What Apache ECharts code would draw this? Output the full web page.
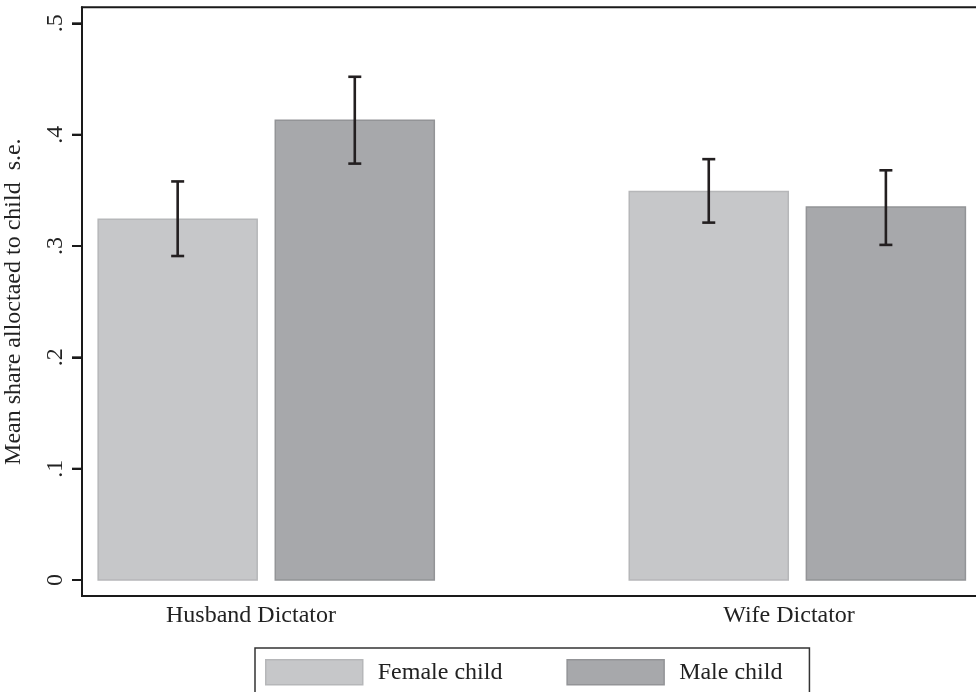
<!DOCTYPE html>
<html>
<head>
<meta charset="utf-8">
<script src="https://cdn.jsdelivr.net/npm/echarts@6/dist/echarts.min.js"></script>
<style>
html,body{margin:0;padding:0;background:#fff;}
#chart{width:976px;height:692px;}
</style>
</head>
<body>
<div id="chart"></div>
<script>
// ---- data ----
const categories = ['Husband Dictator', 'Wife Dictator'];
const seriesNames = ['Female child', 'Male child'];
const femaleMean = [0.324, 0.349];
const maleMean = [0.413, 0.335];
const femaleLow = [0.291, 0.321];
const femaleHigh = [0.358, 0.378];
const maleLow = [0.374, 0.301];
const maleHigh = [0.452, 0.368];
const yTicks = [0, 0.1, 0.2, 0.3, 0.4, 0.5];
const yTickLabels = ['0', '.1', '.2', '.3', '.4', '.5'];

// ---- layout (x axis in plot-fraction units) ----
const GROUP_START = 0.2047, GROUP_STEP = 0.5901, BAR_OFFSET = 0.0984, BAR_W = 0.1767;
const LABEL_POS = [0.1878, 0.7856];
const FONT = 'Liberation Serif, Times New Roman, serif';
const FS = 24;
const TICK_LEN = 10;
const colors = [
  {fill: '#c6c7c9', stroke: '#b6b7b9'},
  {fill: '#a7a8ab', stroke: '#939497'}
];

function barData(vals, s) {
  return vals.map((v, i) => [GROUP_START + i * GROUP_STEP + (s === 0 ? -BAR_OFFSET : BAR_OFFSET), v]);
}
function errData(lo, hi, s) {
  return lo.map((v, i) => [GROUP_START + i * GROUP_STEP + (s === 0 ? -BAR_OFFSET : BAR_OFFSET), v, hi[i]]);
}

function barRender(s) {
  return function (params, api) {
    const x = api.value(0), y = api.value(1);
    const a = api.coord([x - BAR_W / 2, y]);
    const b = api.coord([x + BAR_W / 2, 0]);
    return {
      type: 'rect',
      shape: {x: a[0], y: a[1], width: b[0] - a[0], height: b[1] - a[1]},
      style: {fill: colors[s].fill, stroke: colors[s].stroke, lineWidth: 1.5}
    };
  };
}
function errRender(params, api) {
  const x = api.value(0);
  const lo = api.coord([x, api.value(1)]);
  const hi = api.coord([x, api.value(2)]);
  const hw = 6.5;
  const st = {stroke: '#231f20', lineWidth: 2.6};
  return {
    type: 'group',
    children: [
      {type: 'line', shape: {x1: lo[0], y1: lo[1], x2: hi[0], y2: hi[1]}, style: st},
      {type: 'line', shape: {x1: lo[0] - hw, y1: lo[1], x2: lo[0] + hw, y2: lo[1]}, style: st},
      {type: 'line', shape: {x1: hi[0] - hw, y1: hi[1], x2: hi[0] + hw, y2: hi[1]}, style: st}
    ]
  };
}
function tickRender(params, api) {
  const p = api.coord([api.value(0), api.value(1)]);
  return {
    type: 'rect',
    shape: {x: p[0] - TICK_LEN, y: p[1] - 1, width: TICK_LEN, height: 2},
    style: {fill: '#1a1a1a'}
  };
}

function nearest(arr, v) {
  let best = 0;
  arr.forEach((p, i) => { if (Math.abs(p - v) < Math.abs(arr[best] - v)) best = i; });
  return best;
}

const chart = echarts.init(document.getElementById('chart'));
chart.setOption({
  backgroundColor: '#fff',
  animation: false,
  textStyle: {fontFamily: FONT},
  grid: {
    left: 82, top: 7.3, right: -6, bottom: 96,
    containLabel: false, outerBoundsMode: 'none',
    show: true, borderColor: '#1a1a1a', borderWidth: 2, backgroundColor: 'transparent'
  },
  legend: {
    left: 255, top: 648,
    padding: [11, 27, 11, 10],
    borderColor: '#333', borderWidth: 1.5,
    itemWidth: 97, itemHeight: 25, itemGap: 64,
    icon: 'rect',
    textStyle: {fontFamily: FONT, fontSize: FS, color: '#222', padding: [0, 0, 0, 10]},
    data: seriesNames.map((n, s) => ({
      name: n,
      itemStyle: {color: colors[s].fill, borderColor: colors[s].stroke, borderWidth: 1.5}
    }))
  },
  xAxis: {
    type: 'value', min: 0, max: 1,
    axisLine: {show: true, onZero: false, lineStyle: {color: '#1a1a1a', width: 2}},
    axisTick: {show: false},
    splitLine: {show: false},
    axisLabel: {
      customValues: LABEL_POS,
      margin: 8,
      fontFamily: FONT, fontSize: FS, color: '#222',
      formatter: v => categories[nearest(LABEL_POS, v)]
    }
  },
  yAxis: {
    type: 'value', min: -0.01437, max: 0.5144,
    name: 'Mean share alloctaed to child  s.e.',
    nameLocation: 'middle', nameRotate: 90, nameGap: 56,
    nameTextStyle: {fontFamily: FONT, fontSize: FS, color: '#222'},
    axisLine: {show: true, onZero: false, lineStyle: {color: '#1a1a1a', width: 2}},
    axisTick: {show: true, inside: false, length: TICK_LEN, customValues: yTicks, lineStyle: {color: '#1a1a1a', width: 2}},
    splitLine: {show: false},
    axisLabel: {
      customValues: yTicks,
      rotate: 90, margin: 14,
      align: 'center', verticalAlign: 'bottom',
      fontFamily: FONT, fontSize: FS, color: '#222',
      formatter: v => yTickLabels[nearest(yTicks, v)]
    }
  },
  series: [
    {name: seriesNames[0], type: 'custom', renderItem: barRender(0), data: barData(femaleMean, 0),
     encode: {x: 0, y: 1}, itemStyle: {color: colors[0].fill}, z: 2},
    {name: seriesNames[1], type: 'custom', renderItem: barRender(1), data: barData(maleMean, 1),
     encode: {x: 0, y: 1}, itemStyle: {color: colors[1].fill}, z: 2},
    {name: 'err0', type: 'custom', renderItem: errRender, data: errData(femaleLow, femaleHigh, 0),
     encode: {x: 0, y: [1, 2]}, z: 3},
    {name: 'err1', type: 'custom', renderItem: errRender, data: errData(maleLow, maleHigh, 1),
     encode: {x: 0, y: [1, 2]}, z: 3},
    {name: 'yticks', type: 'custom', renderItem: tickRender, clip: false, silent: true,
     data: yTicks.map(v => [0, v]), encode: {x: 0, y: 1}, z: 10}
  ]
});
</script>
</body>
</html>
